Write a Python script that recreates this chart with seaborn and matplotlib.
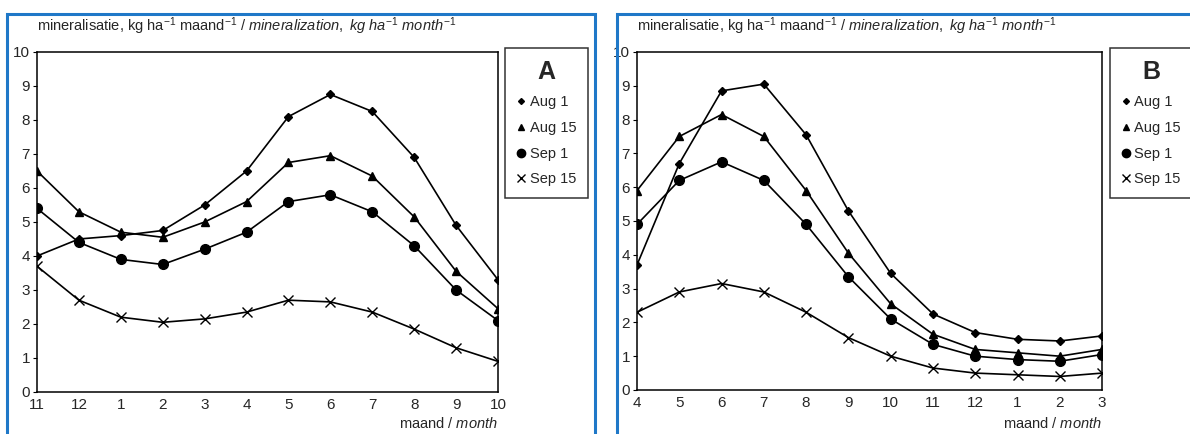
import numpy as np
import pandas as pd
import matplotlib.pyplot as plt
import seaborn as sns
from matplotlib.lines import Line2D
from matplotlib.patches import Rectangle

# panel A: months Nov..Oct
months_a = ["11", "12", "1", "2", "3", "4", "5", "6", "7", "8", "9", "10"]
aug1_a = [4.0, 4.5, 4.6, 4.75, 5.5, 6.5, 8.1, 8.75, 8.25, 6.9, 4.9, 3.3]
aug15_a = [6.5, 5.3, 4.7, 4.55, 5.0, 5.6, 6.75, 6.95, 6.35, 5.15, 3.55, 2.45]
sep1_a = [5.4, 4.4, 3.9, 3.75, 4.2, 4.7, 5.6, 5.8, 5.3, 4.3, 3.0, 2.1]
sep15_a = [3.7, 2.7, 2.2, 2.05, 2.15, 2.35, 2.7, 2.65, 2.35, 1.85, 1.3, 0.9]

# panel B: months Apr..Mar
months_b = ["4", "5", "6", "7", "8", "9", "10", "11", "12", "1", "2", "3"]
aug1_b = [3.7, 6.7, 8.85, 9.05, 7.55, 5.3, 3.45, 2.25, 1.7, 1.5, 1.45, 1.6]
aug15_b = [5.9, 7.5, 8.15, 7.5, 5.9, 4.05, 2.55, 1.65, 1.2, 1.1, 1.0, 1.2]
sep1_b = [4.9, 6.2, 6.75, 6.2, 4.9, 3.35, 2.1, 1.35, 1.0, 0.9, 0.85, 1.05]
sep15_b = [2.3, 2.9, 3.15, 2.9, 2.3, 1.55, 1.0, 0.65, 0.5, 0.45, 0.4, 0.5]

series = ["Aug 1", "Aug 15", "Sep 1", "Sep 15"]
markers = {"Aug 1": "D", "Aug 15": "^", "Sep 1": "o", "Sep 15": "x"}
msizes = {"Aug 1": 4, "Aug 15": 6, "Sep 1": 7, "Sep 15": 7}

sns.set_style("white")
plt.rcParams["font.family"] = ["Liberation Sans", "DejaVu Sans"]
plt.rcParams["mathtext.fontset"] = "custom"
plt.rcParams["mathtext.rm"] = "Liberation Sans"
plt.rcParams["mathtext.it"] = "Liberation Sans:italic"


def to_long(months, values):
    rows = []
    for name, vals in zip(series, values):
        for i, v in enumerate(vals):
            rows.append({"pos": i, "value": v, "series": name})
    return pd.DataFrame(rows)


fig = plt.figure(figsize=(11.9, 4.34), dpi=100)

blue = "#1f78c8"
fig.patches.append(Rectangle((0.0059, -0.1), 0.494, 1.0677, transform=fig.transFigure,
                             fill=False, edgecolor=blue, linewidth=2.2))
fig.patches.append(Rectangle((0.5185, -0.1), 0.6, 1.0677, transform=fig.transFigure,
                             fill=False, edgecolor=blue, linewidth=2.2))

panels = [
    ("A", months_a, [aug1_a, aug15_a, sep1_a, sep15_a], [0.0311, 0.0968, 0.3874, 0.7834], (0.4244, 0.8894)),
    ("B", months_b, [aug1_b, aug15_b, sep1_b, sep15_b], [0.5353, 0.1014, 0.3908, 0.7788], (0.9325, 0.8894)),
]

ylabel = (r"mineralisatie, kg ha$^{-1}$ maand$^{-1}$ / "
          r"$\mathit{mineralization,\ kg\ ha^{-1}\ month^{-1}}$")

for letter, months, values, rect, leg_pos in panels:
    ax = fig.add_axes(rect)
    df = to_long(months, values)
    for name in series:
        sub = df[df["series"] == name]
        sns.lineplot(data=sub, x="pos", y="value", ax=ax, color="black", linewidth=1.2,
                     marker=markers[name], markersize=msizes[name],
                     markeredgecolor="black", markerfacecolor="black", mew=1.0,
                     legend=False)
    ax.set_xlim(0, len(months) - 1)
    ax.set_ylim(0, 10)
    ax.set_xticks(range(len(months)))
    ax.set_xticklabels(months)
    ax.set_yticks(range(0, 11))
    ax.tick_params(axis="y", length=3, width=0.8, color="black", pad=2, labelsize=11, left=True)
    ax.tick_params(axis="x", length=0, pad=4, labelsize=11)
    ax.set_xlabel("")
    ax.set_ylabel("")
    for s in ax.spines.values():
        s.set_color("black")
        s.set_linewidth(1.1)
    ax.text(0, 1.045, ylabel, transform=ax.transAxes, fontsize=10.5, ha="left", va="bottom")
    ax.text(1.0, 0.004, r"maand / $\mathit{month}$", transform=ax.get_yaxis_transform(),
            fontsize=10.5, ha="right", va="bottom")
    ax.texts[-1].set_transform(fig.transFigure)
    ax.texts[-1].set_position((rect[0] + rect[2], 0.006))

    handles = [Line2D([], [], color="black", linestyle="none", marker=markers[n],
                      markersize=msizes[n] - 1, markerfacecolor="black") for n in series]
    leg = fig.legend(handles, series, loc="upper left", bbox_to_anchor=leg_pos,
                     bbox_transform=fig.transFigure, title=letter, fontsize=10.5,
                     title_fontproperties={"size": 18, "weight": "bold"},
                     frameon=True, fancybox=False, edgecolor="black",
                     handlelength=0.6, handletextpad=0.3, labelspacing=0.8,
                     borderpad=0.8, borderaxespad=0)
    leg.get_frame().set_linewidth(1.1)

fig.savefig("out.png", dpi=100)
